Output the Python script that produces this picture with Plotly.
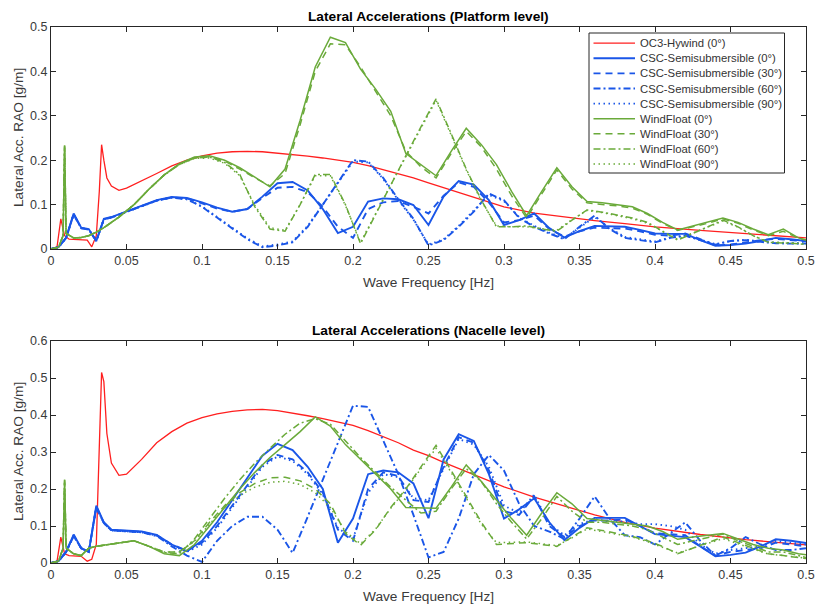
import plotly.graph_objects as go

# ---------------- data ----------------
RED_F = [0, 0.004, 0.0065, 0.008, 0.009, 0.012, 0.02, 0.024, 0.027, 0.03, 0.032, 0.0335, 0.035, 0.037, 0.04, 0.045, 0.05,
         0.06, 0.07, 0.08, 0.09, 0.10, 0.11, 0.12, 0.13, 0.14, 0.15, 0.16, 0.17, 0.18, 0.19, 0.20,
         0.21, 0.22, 0.23, 0.24, 0.25, 0.26, 0.27, 0.28, 0.29, 0.30,
         0.32, 0.34, 0.36, 0.38, 0.40, 0.43, 0.46, 0.50]

CSC_F = [0, 0.005, 0.01, 0.015, 0.02, 0.025, 0.03, 0.035, 0.04,
         0.05, 0.06, 0.07, 0.08, 0.09, 0.10, 0.11, 0.12, 0.13, 0.14, 0.15, 0.16, 0.17, 0.18, 0.19, 0.20,
         0.21, 0.22, 0.23, 0.24, 0.25, 0.26, 0.27, 0.28, 0.29, 0.30, 0.31, 0.32, 0.33, 0.34, 0.35,
         0.36, 0.37, 0.38, 0.39, 0.40, 0.41, 0.42, 0.43, 0.44, 0.45, 0.46, 0.47, 0.48, 0.49, 0.50]

WF_F = [0, 0.005, 0.008, 0.009, 0.01, 0.015, 0.02, 0.025, 0.03, 0.035, 0.04, 0.045,
        0.055, 0.065, 0.075, 0.085, 0.095, 0.105, 0.115, 0.125, 0.135, 0.145, 0.155, 0.165, 0.175,
        0.185, 0.195, 0.205, 0.215, 0.225, 0.235, 0.245, 0.255, 0.265, 0.275, 0.285, 0.295, 0.305,
        0.315, 0.325, 0.335, 0.345, 0.355, 0.365, 0.375, 0.385, 0.395, 0.405, 0.415, 0.425, 0.435,
        0.445, 0.455, 0.465, 0.475, 0.485, 0.495, 0.5]

# Platform level
plat_oc3 = [0, 0.005, 0.068, 0.045, 0.03, 0.022, 0.021, 0.02, 0.005, 0.03, 0.13, 0.235, 0.2, 0.16, 0.142, 0.132, 0.137,
            0.153, 0.17, 0.187, 0.2, 0.21, 0.216, 0.219, 0.22, 0.219, 0.216, 0.213, 0.209, 0.205, 0.2, 0.195,
            0.188, 0.179, 0.17, 0.16, 0.149, 0.138, 0.127, 0.116, 0.105, 0.095,
            0.081, 0.072, 0.064, 0.057, 0.05, 0.042, 0.034, 0.025]

plat_csc0 = [0, 0.004, 0.025, 0.08, 0.048, 0.045, 0.018, 0.068, 0.072,
             0.085, 0.098, 0.11, 0.117, 0.115, 0.105, 0.093, 0.084, 0.09, 0.118, 0.148, 0.151, 0.132, 0.09, 0.036, 0.05,
             0.107, 0.114, 0.112, 0.099, 0.054, 0.118, 0.153, 0.145, 0.11, 0.054, 0.065, 0.08, 0.047, 0.026, 0.04,
             0.052, 0.051, 0.05, 0.043, 0.035, 0.034, 0.034, 0.02, 0.007, 0.009, 0.012, 0.018, 0.025, 0.022, 0.018]
plat_csc30 = [0, 0.004, 0.025, 0.078, 0.047, 0.044, 0.018, 0.067, 0.071,
              0.084, 0.097, 0.109, 0.116, 0.114, 0.103, 0.091, 0.084, 0.09, 0.115, 0.138, 0.14, 0.128, 0.095, 0.05, 0.025,
              0.09, 0.105, 0.108, 0.095, 0.08, 0.12, 0.15, 0.14, 0.105, 0.06, 0.065, 0.075, 0.045, 0.028, 0.04,
              0.048, 0.047, 0.046, 0.04, 0.032, 0.03, 0.035, 0.022, 0.008, 0.01, 0.015, 0.02, 0.023, 0.02, 0.017]
plat_csc60 = [0, 0.004, 0.025, 0.078, 0.047, 0.044, 0.018, 0.067, 0.071,
              0.084, 0.097, 0.109, 0.116, 0.112, 0.095, 0.07, 0.045, 0.022, 0.004, 0.008, 0.015, 0.05, 0.1, 0.15, 0.2,
              0.197, 0.16, 0.112, 0.068, 0.008, 0.02, 0.05, 0.084, 0.125, 0.11, 0.07, 0.05, 0.035, 0.022, 0.05,
              0.075, 0.045, 0.025, 0.02, 0.015, 0.025, 0.03, 0.02, 0.01, 0.018, 0.02, 0.016, 0.013, 0.012, 0.012]
plat_csc90 = [0, 0.004, 0.025, 0.078, 0.047, 0.044, 0.018, 0.067, 0.071,
              0.084, 0.097, 0.109, 0.116, 0.112, 0.096, 0.072, 0.047, 0.024, 0.006, 0.01, 0.017, 0.052, 0.1, 0.148, 0.197,
              0.195, 0.158, 0.11, 0.066, 0.01, 0.022, 0.052, 0.086, 0.122, 0.108, 0.072, 0.052, 0.037, 0.024, 0.048,
              0.072, 0.047, 0.027, 0.022, 0.017, 0.026, 0.03, 0.021, 0.011, 0.018, 0.021, 0.017, 0.014, 0.013, 0.013]

plat_wf0 = [0, 0.004, 0.03, 0.233, 0.035, 0.025, 0.026, 0.03, 0.038, 0.048, 0.06, 0.072,
            0.1, 0.135, 0.167, 0.192, 0.207, 0.21, 0.2, 0.183, 0.162, 0.14, 0.18, 0.29, 0.41,
            0.477, 0.465, 0.405, 0.36, 0.31, 0.215, 0.19, 0.165, 0.22, 0.272, 0.235, 0.19, 0.13,
            0.075, 0.13, 0.183, 0.14, 0.107, 0.104, 0.1, 0.095, 0.08, 0.06, 0.043, 0.052, 0.06,
            0.07, 0.06, 0.045, 0.032, 0.045, 0.025, 0.02]
plat_wf30 = [0, 0.004, 0.03, 0.23, 0.035, 0.025, 0.026, 0.03, 0.038, 0.048, 0.06, 0.072,
             0.1, 0.135, 0.167, 0.191, 0.205, 0.208, 0.198, 0.18, 0.16, 0.142, 0.17, 0.28, 0.4,
             0.462, 0.46, 0.41, 0.355, 0.3, 0.22, 0.185, 0.16, 0.215, 0.265, 0.23, 0.18, 0.12,
             0.07, 0.125, 0.178, 0.135, 0.104, 0.1, 0.097, 0.092, 0.078, 0.058, 0.042, 0.05, 0.058,
             0.068, 0.058, 0.043, 0.03, 0.04, 0.024, 0.02]
plat_wf60 = [0, 0.004, 0.03, 0.233, 0.035, 0.025, 0.026, 0.03, 0.038, 0.048, 0.06, 0.072,
             0.1, 0.135, 0.167, 0.19, 0.205, 0.207, 0.195, 0.168, 0.095, 0.045, 0.04, 0.1, 0.168,
             0.168, 0.1, 0.012, 0.078, 0.145, 0.21, 0.275, 0.338, 0.26, 0.18, 0.11, 0.05, 0.05,
             0.052, 0.045, 0.04, 0.065, 0.088, 0.083, 0.077, 0.07, 0.06, 0.04, 0.02, 0.035, 0.05,
             0.065, 0.05, 0.03, 0.015, 0.014, 0.012, 0.01]
plat_wf90 = [0, 0.004, 0.03, 0.23, 0.035, 0.025, 0.026, 0.03, 0.038, 0.048, 0.06, 0.072,
             0.1, 0.135, 0.166, 0.19, 0.204, 0.205, 0.193, 0.165, 0.098, 0.048, 0.042, 0.1, 0.165,
             0.165, 0.098, 0.015, 0.08, 0.145, 0.208, 0.272, 0.335, 0.258, 0.178, 0.108, 0.052, 0.05,
             0.05, 0.046, 0.042, 0.066, 0.087, 0.082, 0.075, 0.068, 0.058, 0.04, 0.022, 0.036, 0.05,
             0.063, 0.049, 0.03, 0.016, 0.015, 0.013, 0.011]

# Nacelle level
nac_oc3 = [0, 0.005, 0.07, 0.045, 0.025, 0.02, 0.018, 0.005, 0.01, 0.05, 0.3, 0.515, 0.49, 0.35, 0.27, 0.237, 0.24,
           0.28, 0.325, 0.355, 0.378, 0.393, 0.403, 0.41, 0.414, 0.415, 0.412, 0.406, 0.398, 0.39, 0.382, 0.372,
           0.358, 0.342, 0.325, 0.305, 0.29, 0.272, 0.255, 0.238, 0.222, 0.206,
           0.178, 0.153, 0.13, 0.11, 0.094, 0.077, 0.063, 0.049]

nac_csc0 = [0, 0.005, 0.03, 0.077, 0.04, 0.03, 0.155, 0.11, 0.09,
            0.087, 0.085, 0.076, 0.05, 0.032, 0.06, 0.11, 0.17, 0.23, 0.29, 0.322, 0.305, 0.26, 0.2, 0.055, 0.12,
            0.24, 0.25, 0.245, 0.215, 0.121, 0.28, 0.348, 0.33, 0.24, 0.12, 0.145, 0.175, 0.11, 0.062, 0.095,
            0.122, 0.122, 0.122, 0.1, 0.078, 0.074, 0.07, 0.045, 0.018, 0.022, 0.028, 0.045, 0.064, 0.06, 0.054]
nac_csc30 = [0, 0.005, 0.03, 0.075, 0.04, 0.03, 0.152, 0.108, 0.089,
             0.086, 0.084, 0.075, 0.05, 0.033, 0.055, 0.1, 0.155, 0.21, 0.265, 0.292, 0.28, 0.245, 0.19, 0.09, 0.06,
             0.2, 0.245, 0.235, 0.17, 0.165, 0.26, 0.34, 0.325, 0.25, 0.14, 0.13, 0.18, 0.1, 0.07, 0.1,
             0.115, 0.115, 0.118, 0.1, 0.08, 0.078, 0.075, 0.045, 0.02, 0.03, 0.035, 0.04, 0.055, 0.05, 0.045]
nac_csc60 = [0, 0.005, 0.03, 0.072, 0.04, 0.03, 0.15, 0.108, 0.088,
             0.085, 0.083, 0.073, 0.045, 0.02, 0.003, 0.06, 0.1, 0.125, 0.125, 0.09, 0.027, 0.125, 0.225, 0.325, 0.425,
             0.422, 0.33, 0.24, 0.13, 0.015, 0.03, 0.12, 0.24, 0.292, 0.25, 0.16, 0.1, 0.085, 0.065, 0.12,
             0.18, 0.12, 0.075, 0.07, 0.05, 0.08, 0.11, 0.06, 0.02, 0.04, 0.07, 0.05, 0.035, 0.035, 0.04]
nac_csc90 = [0, 0.005, 0.03, 0.074, 0.04, 0.03, 0.151, 0.108, 0.088,
             0.085, 0.083, 0.074, 0.048, 0.03, 0.05, 0.095, 0.15, 0.205, 0.26, 0.288, 0.276, 0.24, 0.185, 0.095, 0.065,
             0.19, 0.24, 0.232, 0.175, 0.17, 0.255, 0.335, 0.32, 0.26, 0.155, 0.135, 0.185, 0.105, 0.075, 0.105,
             0.118, 0.112, 0.112, 0.105, 0.105, 0.1, 0.09, 0.05, 0.025, 0.035, 0.04, 0.045, 0.06, 0.055, 0.05]

nac_wf0 = [0, 0.005, 0.04, 0.225, 0.04, 0.025, 0.02, 0.04, 0.045, 0.048, 0.052, 0.056,
           0.06, 0.045, 0.025, 0.02, 0.05, 0.1, 0.15, 0.2, 0.245, 0.285, 0.32, 0.355, 0.395,
           0.37, 0.32, 0.28, 0.24, 0.2, 0.15, 0.148, 0.148, 0.205, 0.265, 0.22, 0.17, 0.12,
           0.075, 0.135, 0.19, 0.16, 0.12, 0.115, 0.11, 0.105, 0.1, 0.085, 0.064, 0.07, 0.075,
           0.08, 0.065, 0.05, 0.04, 0.035, 0.025, 0.022]
nac_wf30 = [0, 0.005, 0.04, 0.22, 0.04, 0.025, 0.02, 0.04, 0.045, 0.048, 0.052, 0.056,
            0.06, 0.045, 0.03, 0.03, 0.06, 0.11, 0.155, 0.19, 0.215, 0.23, 0.232, 0.222, 0.2,
            0.16, 0.08, 0.048, 0.09, 0.15, 0.2, 0.26, 0.318, 0.25, 0.18, 0.11, 0.05, 0.052,
            0.055, 0.05, 0.045, 0.07, 0.095, 0.088, 0.08, 0.072, 0.06, 0.045, 0.025, 0.04, 0.055,
            0.07, 0.055, 0.04, 0.025, 0.02, 0.015, 0.012]
nac_wf60 = [0, 0.005, 0.04, 0.225, 0.04, 0.025, 0.02, 0.04, 0.045, 0.048, 0.052, 0.056,
            0.06, 0.045, 0.028, 0.025, 0.065, 0.12, 0.175, 0.225, 0.27, 0.31, 0.348, 0.378, 0.39,
            0.375, 0.33, 0.285, 0.245, 0.205, 0.17, 0.135, 0.14, 0.2, 0.255, 0.22, 0.16, 0.11,
            0.065, 0.12, 0.18, 0.14, 0.11, 0.11, 0.105, 0.1, 0.09, 0.07, 0.05, 0.06, 0.07,
            0.078, 0.06, 0.045, 0.03, 0.03, 0.02, 0.015]
nac_wf90 = [0, 0.005, 0.04, 0.22, 0.04, 0.025, 0.02, 0.04, 0.045, 0.048, 0.052, 0.056,
            0.06, 0.045, 0.03, 0.03, 0.058, 0.105, 0.15, 0.183, 0.205, 0.218, 0.221, 0.212, 0.19,
            0.15, 0.085, 0.052, 0.092, 0.148, 0.198, 0.255, 0.31, 0.245, 0.175, 0.105, 0.055, 0.055,
            0.057, 0.052, 0.047, 0.068, 0.092, 0.085, 0.078, 0.07, 0.058, 0.043, 0.027, 0.04, 0.053,
            0.066, 0.052, 0.038, 0.024, 0.02, 0.016, 0.013]

NAMES = ["OC3-Hywind (0°)",
         "CSC-Semisubmersible (0°)", "CSC-Semisubmersible (30°)", "CSC-Semisubmersible (60°)", "CSC-Semisubmersible (90°)",
         "WindFloat (0°)", "WindFloat (30°)", "WindFloat (60°)", "WindFloat (90°)"]

X_TICKS = [0, 0.05, 0.1, 0.15, 0.2, 0.25, 0.3, 0.35, 0.4, 0.45, 0.5]
Y_TICKS_TOP = [0, 0.1, 0.2, 0.3, 0.4, 0.5]
Y_TICKS_BOT = [0, 0.1, 0.2, 0.3, 0.4, 0.5, 0.6]

# ---------------- styling ----------------
RED = "#ff1f1f"
BLUE = "#1a56e8"
GREEN = "#6aaa3a"
DASHES = ["solid", "7px,5px", "7px,3px,2px,3px", "1.5px,3.5px"]
W_RED, W_BLUE, W_GREEN = 1.3, 1.9, 1.5

# figure geometry (page body margin removed, figure fills the window)
FIG_W, FIG_H = 815, 607
ML, MR, MT, MB = 51, 9, 27, 44
PW = FIG_W - ML - MR
PH = FIG_H - MT - MB
TOP_DOM = [1 - 222 / PH, 1.0]
BOT_DOM = [0.0, 222 / PH]


def px(xp):
    return (xp - ML) / PW


def py(yp):
    return 1 - (yp - MT) / PH


fig = go.Figure()

panels = [
    ("x", "y", plat_oc3, [plat_csc0, plat_csc30, plat_csc60, plat_csc90], [plat_wf0, plat_wf30, plat_wf60, plat_wf90]),
    ("x2", "y2", nac_oc3, [nac_csc0, nac_csc30, nac_csc60, nac_csc90], [nac_wf0, nac_wf30, nac_wf60, nac_wf90]),
]

for xa, ya, oc3, cscs, wfs in panels:
    fig.add_trace(go.Scatter(x=RED_F, y=oc3, mode="lines", name=NAMES[0], showlegend=False,
                             line=dict(color=RED, width=W_RED), xaxis=xa, yaxis=ya))
    for i, s in enumerate(cscs):
        fig.add_trace(go.Scatter(x=CSC_F, y=s, mode="lines", name=NAMES[1 + i], showlegend=False,
                                 line=dict(color=BLUE, width=W_BLUE, dash=DASHES[i]), xaxis=xa, yaxis=ya))
    for i, s in enumerate(wfs):
        fig.add_trace(go.Scatter(x=WF_F, y=s, mode="lines", name=NAMES[5 + i], showlegend=False,
                                 line=dict(color=GREEN, width=W_GREEN, dash=DASHES[i]), xaxis=xa, yaxis=ya))

FONT = "Liberation Sans, Arial, sans-serif"
TICKCOL = "#3a3a3a"
AXCOL = "#262626"


def xaxis_style(anchor):
    return dict(anchor=anchor, range=[0, 0.5], tickvals=X_TICKS, ticks="inside", ticklen=5,
                tickcolor=AXCOL, showline=True, linecolor=AXCOL, linewidth=1, mirror="ticks",
                showgrid=False, zeroline=False, automargin=False, ticklabeloverflow="allow",
                tickfont=dict(size=12.5, color=TICKCOL, family=FONT))


def yaxis_style(anchor, rng, ticks, dom):
    return dict(anchor=anchor, domain=dom, range=rng, tickvals=ticks, ticks="inside", ticklen=5,
                tickcolor=AXCOL, showline=True, linecolor=AXCOL, linewidth=1, mirror="ticks",
                showgrid=False, zeroline=False, automargin=False, ticklabeloverflow="allow",
                tickfont=dict(size=12.5, color=TICKCOL, family=FONT))


annotations = []
shapes = []
for title, dom in [("Lateral Accelerations (Platform level)", TOP_DOM),
                   ("Lateral Accelerations (Nacelle level)", BOT_DOM)]:
    annotations.append(dict(text="<b>" + title + "</b>", xref="paper", yref="paper", x=0.5, y=dom[1],
                            xanchor="center", yanchor="middle", yshift=11, showarrow=False,
                            font=dict(size=13.7, color="#000000", family=FONT)))
    annotations.append(dict(text="Wave Frequency [Hz]", xref="paper", yref="paper", x=0.5, y=dom[0],
                            xanchor="center", yanchor="middle", yshift=-33, showarrow=False,
                            font=dict(size=13.7, color=TICKCOL, family=FONT)))
    annotations.append(dict(text="Lateral Acc. RAO [g/m]", xref="paper", yref="paper", x=0,
                            y=(dom[0] + dom[1]) / 2, xanchor="center", yanchor="middle", xshift=-33,
                            textangle=-90, showarrow=False,
                            font=dict(size=13.7, color=TICKCOL, family=FONT)))

# legend (top panel), drawn as a framed box with line samples and labels
LEG_X0, LEG_X1, LEG_Y0, LEG_Y1 = 589, 784.5, 33, 173
ROW0, ROW_STEP = 43.2, 15.1
SAMPLE_X0, SAMPLE_X1, TEXT_X = 593.5, 635, 637.5
shapes.append(dict(type="rect", xref="paper", yref="paper", x0=px(LEG_X0), x1=px(LEG_X1),
                   y0=py(LEG_Y1), y1=py(LEG_Y0), line=dict(color=AXCOL, width=1), fillcolor="white",
                   layer="above"))
leg_colors = [RED] + [BLUE] * 4 + [GREEN] * 4
leg_widths = [W_RED] + [W_BLUE] * 4 + [W_GREEN] * 4
leg_dashes = ["solid"] + DASHES + DASHES
for i, name in enumerate(NAMES):
    yy = py(ROW0 + ROW_STEP * i)
    shapes.append(dict(type="line", xref="paper", yref="paper", x0=px(SAMPLE_X0), x1=px(SAMPLE_X1),
                       y0=yy, y1=yy, layer="above",
                       line=dict(color=leg_colors[i], width=leg_widths[i], dash=leg_dashes[i])))
    annotations.append(dict(text=name, xref="paper", yref="paper", x=px(TEXT_X), y=yy,
                            xanchor="left", yanchor="middle", showarrow=False,
                            font=dict(size=11.3, color="#333333", family=FONT)))

fig.update_layout(
    width=FIG_W, height=FIG_H,
    margin=dict(l=ML, r=MR, t=MT, b=MB),
    paper_bgcolor="white", plot_bgcolor="white",
    font=dict(family=FONT, color=AXCOL),
    showlegend=False,
    hovermode=False,
    xaxis=xaxis_style("y"),
    yaxis=yaxis_style("x", [0, 0.5], Y_TICKS_TOP, TOP_DOM),
    xaxis2=xaxis_style("y2"),
    yaxis2=yaxis_style("x2", [0, 0.6], Y_TICKS_BOT, BOT_DOM),
    annotations=annotations,
    shapes=shapes,
)

fig.write_html("out.html", config={"displayModeBar": False, "staticPlot": True},
               post_script="document.body.style.margin='0';document.body.style.overflow='hidden';")
